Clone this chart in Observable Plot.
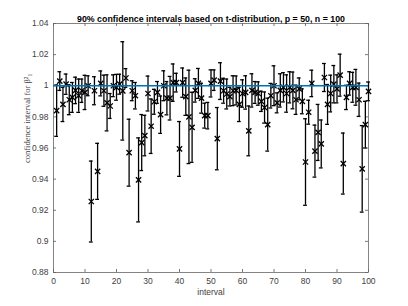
<!DOCTYPE html>
<html><head><meta charset="utf-8">
<script src="https://cdn.jsdelivr.net/npm/d3@7"></script>
<script src="https://cdn.jsdelivr.net/npm/@observablehq/plot@0.6"></script>
<style>body{margin:0;background:#fff;} svg{display:block}</style>
</head><body><div id="chart"></div>
<script>
const titleText = "90% confidence intervals based on t-distribution, p = 50, n = 100";
const xLabel = "interval";
const yLabel = "confidence interval for β²₁";
const xTicks = [0, 10, 20, 30, 40, 50, 60, 70, 80, 90, 100];
const yTicks = [0.88, 0.9, 0.92, 0.94, 0.96, 0.98, 1, 1.02, 1.04];
const trueValue = 1;

// interval estimates (center) for intervals 1..100
const centers = [
  0.984, 1.003, 0.988, 1.001, 0.991, 0.9925, 0.997, 0.9936, 0.9968, 0.9957,
  1.0, 0.9256, 0.9968, 0.945, 1.0015, 0.9968, 0.989, 0.987, 1.0, 0.999,
  1.001, 0.9967, 1.005, 0.957, 0.9968, 0.9936, 0.9395, 0.9635, 0.968, 0.995,
  0.974, 0.9897, 0.9957, 0.9814, 1.0, 0.992, 0.992, 1.002, 1.002, 0.9594,
  1.002, 0.993, 0.98, 0.9733, 0.997, 1.0015, 0.992, 0.9808, 0.9808, 1.0015,
  1.0036, 0.966, 1.003, 0.9968, 0.9947, 0.993, 0.9968, 0.997, 0.988, 0.995,
  0.9957, 0.971, 0.997, 0.9957, 0.995, 0.99, 0.986, 0.975, 0.9936, 1.0,
  0.989, 0.997, 0.999, 0.995, 0.999, 0.997, 0.991, 0.998, 0.99, 0.951,
  0.983, 1.0015, 0.958, 0.97, 0.9626, 1.0053, 0.988, 0.995, 1.001, 0.998,
  1.0068, 0.95, 0.9925, 1.0015, 0.999, 0.999, 0.991, 0.9466, 0.975, 0.9964
];
// half widths of the intervals
const halfWidths = [
  0.0165, 0.006, 0.011, 0.0065, 0.0096, 0.0096, 0.0085, 0.0107, 0.0075, 0.011,
  0.0064, 0.026, 0.009, 0.018, 0.008, 0.01, 0.018, 0.008, 0.007, 0.0083,
  0.0064, 0.0316, 0.006, 0.0215, 0.0064, 0.0085, 0.027, 0.018, 0.013, 0.0112,
  0.0175, 0.008, 0.007, 0.012, 0.0096, 0.0107, 0.014, 0.012, 0.006, 0.0176,
  0.0094, 0.012, 0.03, 0.0225, 0.0075, 0.0096, 0.0096, 0.008, 0.0085, 0.0087,
  0.0066, 0.02, 0.0118, 0.008, 0.0096, 0.006, 0.0096, 0.0093, 0.011, 0.0088,
  0.0107, 0.016, 0.0107, 0.007, 0.0075, 0.0065, 0.01, 0.017, 0.0079, 0.0128,
  0.0064, 0.0107, 0.0094, 0.012, 0.01, 0.0118, 0.0094, 0.007, 0.008, 0.0278,
  0.0077, 0.0085, 0.0167, 0.018, 0.0154, 0.009, 0.0128, 0.0118, 0.012, 0.009,
  0.0135, 0.0196, 0.0078, 0.0075, 0.0096, 0.0115, 0.0107, 0.0278, 0.015, 0.006
];

const rows = centers.map((c, k) => ({i: k + 1, c, lo: c - halfWidths[k], hi: c + halfWidths[k]}));

const W = 408, H = 306, mL = 53, mR = 40, mT = 23, mB = 34;
const fw = W - mL - mR, fh = H - mT - mB, tk = 3;
const capHalf = 0.6;
const axisColor = "#404040";

const chart = Plot.plot({
  width: W, height: H,
  marginLeft: mL, marginRight: mR, marginTop: mT, marginBottom: mB,
  style: {fontFamily: "'Liberation Sans', Arial, sans-serif", fontSize: "8.5px", color: axisColor, background: "#fff"},
  x: {domain: [0, 100]},
  y: {domain: [0.88, 1.04]},
  marks: [
    Plot.axisX({ticks: xTicks, tickSize: 0, tickPadding: 5, label: null, tickFormat: d => String(d)}),
    Plot.axisY({ticks: yTicks, tickSize: 0, tickPadding: 5, label: null, tickFormat: d => String(+d.toFixed(2))}),
    Plot.tickX(xTicks, {x: d => d, insetTop: fh - tk, stroke: "#555", strokeWidth: 0.8}),
    Plot.tickX(xTicks, {x: d => d, insetBottom: fh - tk, stroke: "#555", strokeWidth: 0.8}),
    Plot.tickY(yTicks, {y: d => d, insetRight: fw - tk, stroke: "#555", strokeWidth: 0.8}),
    Plot.tickY(yTicks, {y: d => d, insetLeft: fw - tk, stroke: "#555", strokeWidth: 0.8}),
    Plot.frame({stroke: "#666", strokeWidth: 0.8}),
    Plot.ruleX(rows, {x: "i", y1: "lo", y2: "hi", stroke: "#000", strokeWidth: 1.3}),
    Plot.ruleY(rows, {y: "hi", x1: d => d.i - capHalf, x2: d => d.i + capHalf, stroke: "#000", strokeWidth: 1.3}),
    Plot.ruleY(rows, {y: "lo", x1: d => d.i - capHalf, x2: d => d.i + capHalf, stroke: "#000", strokeWidth: 1.3}),
    Plot.dot(rows, {x: "i", y: "c", symbol: "times", r: 2.5, stroke: "#000", strokeWidth: 1.3}),
    Plot.ruleY([trueValue], {y: d => d, stroke: "#0072BD", strokeWidth: 1.5}),
    Plot.text([titleText], {frameAnchor: "top", dy: -8, fontWeight: "bold", fontSize: 8.8, fill: "#000"}),
    Plot.text([xLabel], {frameAnchor: "bottom", dy: 22, fontSize: 8.5, fill: axisColor}),
    Plot.text([yLabel], {frameAnchor: "left", dx: -26, dy: 15, rotate: -90, fontSize: 8.5, fill: axisColor, fontFamily: "'Liberation Serif', 'DejaVu Serif', serif"})
  ]
});
document.getElementById("chart").appendChild(chart);
</script>
</body></html>
